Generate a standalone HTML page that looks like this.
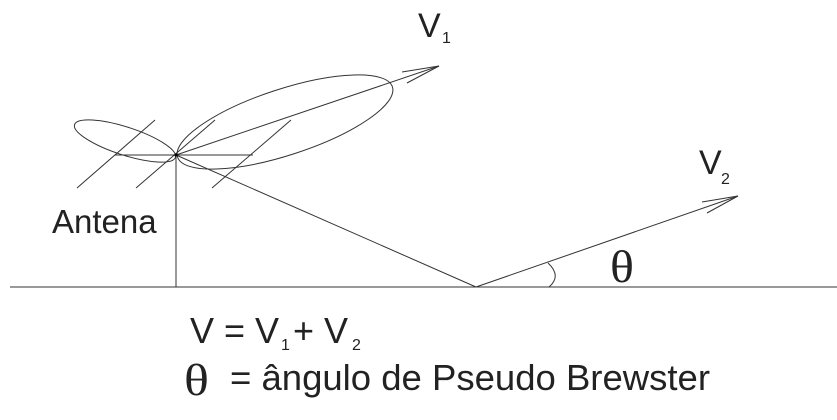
<!DOCTYPE html>
<html><head><meta charset="utf-8"><style>
html,body{margin:0;padding:0;background:#fff;width:837px;height:420px;overflow:hidden}
svg{display:block}
text{font-family:"Liberation Sans",Arial,sans-serif;fill:#222}
.s{font-family:"Liberation Serif",serif}
</style></head><body>
<svg width="837" height="420" viewBox="0 0 837 420" xmlns="http://www.w3.org/2000/svg">
<g stroke="#333" stroke-width="1" fill="none">
<line x1="10" y1="287" x2="837" y2="287"/>
<ellipse cx="285" cy="122" rx="113" ry="33" transform="rotate(-18.1 285 122)"/>
<ellipse cx="125" cy="141" rx="53" ry="14" transform="rotate(18 125 141)"/>
<line x1="77" y1="188" x2="155" y2="120"/>
<line x1="136" y1="188" x2="215" y2="120"/>
<line x1="212" y1="188" x2="291" y2="120"/>
<line x1="115" y1="155" x2="253" y2="155"/>
<line x1="176" y1="155" x2="176" y2="287"/>
<line x1="176" y1="155" x2="476" y2="287"/>
<line x1="176" y1="155" x2="439" y2="66"/>
<polyline points="402,72 439,66 407,83"/>
<line x1="476" y1="287" x2="738" y2="196"/>
<polyline points="702,202 738,196 707,213"/>
<path d="M548,263 Q562,276 549,287"/>
</g>
<circle cx="176" cy="155" r="1.6" fill="#000"/>
<text x="418" y="37" font-size="34">V</text>
<text x="442" y="43" font-size="16">1</text>
<text x="699" y="174" font-size="34">V</text>
<text x="721" y="184" font-size="16">2</text>
<text x="52" y="233" font-size="33">Antena</text>
<text class="s" x="610" y="282" font-size="50" transform="translate(610 282) scale(1 0.92) translate(-610 -282)">θ</text>
<text x="190" y="343" font-size="36">V = V</text>
<text x="281" y="350" font-size="16">1</text>
<text x="293" y="343" font-size="36">+ V</text>
<text x="352" y="350" font-size="16">2</text>
<text class="s" x="184" y="395" font-size="52" transform="translate(184 395) scale(1 0.85) translate(-184 -395)">θ</text>
<text x="230" y="390" font-size="36" textLength="480" lengthAdjust="spacingAndGlyphs">= ângulo de Pseudo Brewster</text>
</svg>
</body></html>
